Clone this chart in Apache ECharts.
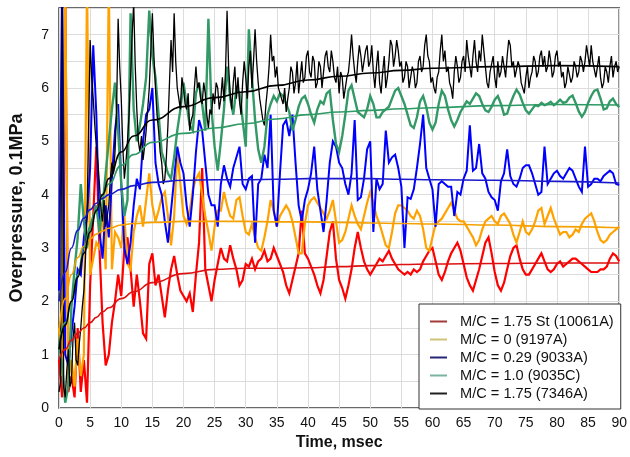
<!DOCTYPE html>
<html>
<head>
<meta charset="utf-8">
<script src="https://cdn.jsdelivr.net/npm/echarts@6/dist/echarts.min.js"></script>
<style>
  html, body { margin: 0; padding: 0; background: #ffffff; }
  #chart { width: 630px; height: 457px; }
</style>
</head>
<body>
<div id="chart"></div>
<script>
// Pressure traces: first sample at t = 0, one sample every *_STEP msec
const SAMPLE_STEP = 0.5;
const BLACK_STEP = 0.25;

const seriesNames = [
  'M/C = 1.75 St (10061A)',
  'M/C = 0 (9197A)',
  'M/C = 0.29 (9033A)',
  'M/C = 1.0 (9035C)',
  'M/C = 1.75 (7346A)'
];

const redTrace = [
  0.9, 0.2, 8.0, 0.3, 0.6, 0.2, 1.5, 0.3, 0.9, 0.1,
  2.3, 3.6, 4.9, 3.0, 1.6, 0.8, 1.0, 1.6, 2.0, 2.5,
  2.1, 3.0, 3.2, 2.6, 1.9, 2.5, 2.0, 1.4, 1.3, 2.7,
  2.9, 2.3, 2.5, 2.1, 1.7, 2.2, 2.6, 2.85, 2.5, 2.2,
  2.1, 2.0, 2.15, 1.8, 2.5, 3.1, 4.5, 2.6, 2.3, 2.0,
  2.4, 2.7, 3.0, 2.8, 2.75, 3.05, 2.8, 2.6, 2.3, 2.4,
  2.7, 2.65, 2.8, 2.6, 2.75, 2.8, 2.95, 2.75, 2.8, 3.0,
  2.85, 2.7, 2.55, 2.3, 2.15, 2.4, 2.65, 2.9, 3.7, 2.9,
  2.8, 2.65, 2.5, 2.3, 2.15, 2.4, 2.85, 3.3, 3.5, 2.8,
  2.4, 2.25, 2.05, 2.3, 2.6, 3.0, 3.3, 3.0, 2.75, 2.6,
  2.5, 2.6, 2.7, 2.8, 2.75, 2.85, 2.95, 2.8, 2.7, 2.6,
  2.55, 2.5, 2.55, 2.5, 2.6, 2.55, 2.6, 2.75, 2.85, 2.95,
  3.0, 2.75, 2.5, 2.4, 2.55, 2.75, 2.9, 3.0, 3.1, 2.95,
  2.7, 2.45, 2.3, 2.2, 2.4, 2.6, 2.85, 3.1, 3.2, 2.9,
  2.55, 2.3, 2.2, 2.35, 2.6, 2.85, 3.0, 3.05, 2.8, 2.6,
  2.5, 2.5, 2.6, 2.7, 2.8, 2.9, 2.75, 2.6, 2.55, 2.6,
  2.7, 2.75, 2.65, 2.7, 2.75, 2.8, 2.8, 2.75, 2.7, 2.65,
  2.6, 2.55, 2.55, 2.55, 2.6, 2.6, 2.65, 2.8, 2.9, 2.85,
  2.75
];

const orangeTrace = [
  1.5, 0.6, 8.0, 0.5, 0.9, 0.4, 1.3, 0.6, 1.0, 8.0,
  2.5, 2.8, 3.1, 3.0, 3.7, 2.6, 8.0, 2.6, 3.3, 3.2,
  3.0, 3.6, 2.7, 2.6, 3.3, 3.6, 3.8, 3.4, 3.9, 4.4,
  3.8, 3.5, 3.7, 3.95, 4.05, 3.6, 3.05, 3.6, 4.8, 4.2,
  3.6, 3.45, 3.7, 4.1, 4.3, 4.4, 4.0, 3.6, 3.3, 2.95,
  3.4, 3.7, 3.7, 4.05, 3.8, 3.6, 3.55, 3.9, 3.95, 3.6,
  3.3, 3.25, 3.45, 3.2, 3.0, 2.95, 3.2, 3.5, 3.9, 3.7,
  3.4, 3.6, 3.7, 3.8, 3.7, 3.5, 3.2, 2.9, 2.9, 3.45,
  3.8, 3.9, 3.95, 3.85, 3.75, 3.65, 3.55, 3.7, 3.9, 3.5,
  3.1, 3.15, 3.3, 3.55, 3.8, 3.6, 3.45, 3.35, 3.6, 3.85,
  4.05, 3.85, 3.6, 3.45, 3.25, 3.05, 3.0, 3.3, 3.65, 3.8,
  3.8, 3.75, 3.7, 3.6, 3.55, 3.7, 3.6, 3.35, 3.0, 2.95,
  3.2, 3.45, 3.5, 3.55, 3.65, 3.75, 3.85, 3.7, 3.55, 3.5,
  3.5, 3.4, 3.3, 3.2, 3.05, 3.15, 3.35, 3.5, 3.55, 3.6,
  3.5, 3.45, 3.6, 3.65, 3.55, 3.45, 3.25, 3.1, 3.3, 3.5,
  3.3, 3.25, 3.35, 3.5, 3.7, 3.75, 3.45, 3.6, 3.75, 3.55,
  3.4, 3.25, 3.3, 3.3, 3.2, 3.25, 3.35, 3.3, 3.45, 3.55,
  3.6, 3.65, 3.5, 3.3, 3.15, 3.1, 3.15, 3.25, 3.3, 3.35,
  3.4
];

const blueTrace = [
  2.2, 8.0, 1.0, 0.8, 1.4, 1.9, 2.6, 2.5, 3.2, 3.6,
  4.5, 6.8, 5.5, 3.3, 2.8, 3.8, 3.2, 4.3, 5.2, 5.7,
  4.2, 3.0, 2.7, 3.1, 3.8, 4.3, 4.1, 5.0, 5.5, 5.6,
  6.0, 4.6, 4.2, 4.0, 3.5, 3.1, 3.7, 4.3, 4.9, 4.6,
  4.4, 3.8, 3.4, 4.0, 4.8, 5.4, 5.2, 4.6, 4.0, 3.8,
  3.8, 3.4, 4.2, 4.55, 4.3, 4.15, 4.5, 4.7, 4.9, 4.2,
  4.1, 4.3, 4.35, 3.1, 4.2, 4.3, 4.75, 4.5, 5.5, 3.7,
  3.4, 4.4, 5.3, 5.4, 5.1, 5.5, 4.6, 3.8, 3.5, 3.9,
  4.1, 4.4, 4.9, 4.1, 3.7, 3.3, 3.9, 4.6, 5.0, 4.9,
  4.6, 4.5, 4.2, 4.0, 4.4, 5.4, 3.9, 3.95, 4.3, 4.85,
  5.0, 3.3, 4.3, 4.1, 4.2, 5.2, 4.6, 4.7, 4.75, 4.5,
  4.15, 3.0, 3.95, 3.92, 4.1, 4.5, 4.95, 5.5, 4.5, 4.3,
  4.1, 3.4, 4.2, 4.25, 4.2, 4.15, 4.15, 3.6, 4.05, 4.0,
  4.3, 4.45, 5.3, 4.45, 4.5, 4.95, 4.4, 4.3, 4.05, 3.95,
  3.9, 3.7, 4.25, 4.4, 4.85, 4.35, 4.2, 4.15, 4.3, 4.5,
  4.55, 4.55, 4.4, 4.2, 4.0, 4.05, 4.9, 4.2, 4.3, 4.4,
  4.45, 4.35, 4.3, 4.4, 4.5, 4.45, 4.3, 4.15, 4.05, 4.9,
  4.15, 4.2, 4.3, 4.3, 4.25, 4.35, 4.4, 4.45, 4.4, 4.2,
  4.18
];

const greenTrace = [
  1.2, 0.8, 0.1, 0.4, 1.9, 2.6, 3.2, 4.2, 3.5, 3.0,
  3.4, 3.6, 3.8, 3.3, 3.8, 4.4, 5.0, 5.6, 6.1, 5.2,
  4.2, 3.6, 3.9, 7.4, 5.6, 5.0, 5.3, 5.7, 6.2, 7.45,
  6.6, 6.2, 5.5, 4.8, 4.6, 4.4, 4.3, 4.7, 5.2, 5.6,
  6.1, 5.7, 5.3, 5.2, 5.9, 6.1, 5.7, 5.2, 7.3, 5.6,
  4.9, 4.45, 5.0, 5.6, 6.4, 5.8, 5.5, 6.0, 5.9, 5.4,
  4.9, 7.1, 6.2, 5.4, 4.85, 4.6, 4.9, 5.5, 5.7, 5.85,
  5.75, 5.9, 5.85, 5.7, 5.55, 5.2, 5.4, 5.65, 5.8, 5.85,
  5.7, 5.5, 5.35, 5.6, 5.75, 5.7, 5.9, 5.95, 5.4, 4.95,
  4.8, 5.1, 5.5, 5.95, 6.05, 5.8, 5.55, 5.5, 5.45, 5.6,
  5.85, 5.7, 5.45, 5.45, 5.55, 5.6, 5.65, 5.8, 5.95, 6.0,
  5.85, 5.7, 5.5, 5.3, 5.25, 5.45, 5.75, 5.85, 5.65, 5.35,
  5.22, 5.35, 5.7, 5.95, 5.85, 5.6, 5.4, 5.28, 5.4, 5.55,
  5.65, 5.75, 5.7, 5.8, 5.9, 5.85, 5.7, 5.58, 5.55, 5.65,
  5.78, 5.85, 5.7, 5.5, 5.52, 5.7, 5.85, 5.97, 5.88, 5.72,
  5.58, 5.52, 5.6, 5.68, 5.66, 5.72, 5.68, 5.7, 5.74, 5.68,
  5.72, 5.78, 5.72, 5.74, 5.82, 5.86, 5.72, 5.56, 5.46, 5.55,
  5.72, 5.85, 5.95, 5.97, 5.8, 5.6, 5.62, 5.75, 5.8, 5.7,
  5.64
];

// 0.25 msec sampling: this trace carries a lot of fine noise
const blackTrace = [
  0.3, 0.5, 8.0, 0.4, 0.2, 0.7, 1.1, 0.4, 0.5, 1.3, 1.6, 0.9, 0.8, 1.2, 1.5, 1.9, 2.2, 2.8, 3.6, 5.2,
  6.9, 6.2, 5.8, 5.3, 4.9, 4.6, 4.2, 3.7, 3.5, 3.9, 3.4, 3.6, 3.8, 4.3, 4.6, 4.4, 4.8, 5.6, 7.3, 6.4,
  5.8, 4.9, 4.3, 4.6, 5.0, 5.5, 6.2, 7.0, 7.6, 6.4, 5.6, 5.0, 4.8, 5.1, 4.65, 4.9, 5.2, 5.6, 6.0, 6.7,
  7.4, 6.6, 6.0, 5.5, 5.2, 4.8, 4.6, 4.2, 4.3, 4.7, 5.3, 6.1, 6.9, 6.3, 7.4, 6.5, 6.0, 5.8, 5.6, 6.2,
  6.0, 5.7, 5.6, 5.9, 5.2, 5.4, 5.5, 6.0, 6.4, 6.0, 6.1, 5.8, 5.7, 6.1, 5.9, 5.5, 5.25, 5.6, 5.5, 5.9,
  5.7, 6.1, 6.0, 5.6, 5.8, 6.2, 5.75, 6.3, 7.45, 6.4, 5.9, 5.6, 6.1, 6.4, 5.8, 6.2, 5.75, 5.5, 6.1, 6.5,
  6.2, 5.8, 6.4, 6.7, 6.0, 6.5, 7.1, 6.5, 6.1, 5.8, 5.6, 5.4, 5.3, 5.7, 6.0, 6.4, 7.0, 6.5, 6.6, 6.2,
  6.4, 6.0, 6.0, 5.8, 5.7, 6.0, 5.55, 5.8, 6.0, 6.4, 6.3, 5.9, 6.1, 6.5, 5.9, 6.2, 6.5, 6.1, 6.2, 6.6,
  6.7, 6.3, 6.2, 6.6, 6.5, 6.0, 6.1, 6.5, 6.4, 6.0, 6.3, 6.6, 6.7, 6.4, 6.3, 6.7, 6.5, 6.2, 6.1, 6.4,
  5.9, 6.3, 6.2, 5.8, 5.8, 6.2, 6.3, 6.6, 7.0, 6.6, 6.3, 6.1, 6.5, 6.8, 6.6, 6.3, 6.3, 6.7, 6.8, 6.4,
  6.5, 6.8, 6.3, 6.0, 6.4, 6.7, 6.1, 5.9, 6.3, 6.6, 6.0, 6.2, 6.5, 6.9, 6.8, 6.4, 6.6, 6.9, 6.7, 6.4,
  6.5, 6.1, 6.2, 6.5, 6.4, 6.0, 6.0, 6.4, 6.3, 6.0, 6.1, 6.5, 6.6, 6.3, 6.4, 6.8, 7.0, 6.6, 6.5, 6.1,
  6.2, 6.0, 5.9, 6.2, 6.3, 6.7, 7.0, 6.5, 6.7, 6.3, 6.4, 6.1, 6.0, 5.8, 6.3, 6.6, 6.4, 6.1, 6.2, 6.5,
  6.6, 6.3, 6.9, 6.6, 6.4, 6.2, 6.6, 6.9, 6.5, 6.3, 6.7, 6.5, 7.0, 6.7, 6.4, 6.1, 6.0, 6.3, 6.3, 6.6,
  6.2, 6.0, 6.5, 6.2, 6.3, 6.6, 6.4, 6.2, 6.6, 6.9, 6.8, 6.4, 6.5, 6.2, 6.2, 6.5, 6.4, 6.1, 6.1, 5.9,
  6.2, 6.4, 6.0, 6.2, 6.3, 6.6, 6.5, 6.2, 6.3, 6.6, 6.7, 6.4, 6.6, 6.3, 6.4, 6.7, 6.5, 6.2, 6.3, 6.6,
  6.7, 6.4, 6.5, 6.2, 6.3, 6.0, 6.1, 6.4, 6.4, 6.1, 6.2, 6.5, 6.4, 6.2, 6.3, 6.6, 6.5, 6.3, 6.5, 6.8,
  6.6, 6.4, 6.8, 6.5, 6.5, 6.2, 6.4, 6.6, 6.2, 6.0, 6.1, 6.4, 6.3, 6.1, 6.4, 6.6, 6.2, 6.4, 6.5, 6.3,
  6.4
];

// Fitted curves, read at these times (msec)
const fitTime   = [0, 1, 2, 3, 4, 5, 6, 7, 8, 10, 12, 15, 20, 25, 30, 35, 40, 45, 50, 55, 60, 70, 80, 90];
const redFit    = [0.9, 1.1, 1.27, 1.4, 1.5, 1.6, 1.7, 1.8, 1.88, 2.05, 2.18, 2.35, 2.52, 2.6, 2.62, 2.62, 2.63, 2.65, 2.67, 2.69, 2.7, 2.71, 2.72, 2.72];
const orangeFit = [1.45, 2.05, 2.5, 2.82, 3.03, 3.17, 3.26, 3.32, 3.37, 3.43, 3.46, 3.48, 3.5, 3.5, 3.5, 3.49, 3.49, 3.48, 3.47, 3.46, 3.45, 3.43, 3.4, 3.38];
const blueFit   = [2.0, 2.55, 3.0, 3.33, 3.56, 3.72, 3.84, 3.93, 4.0, 4.1, 4.17, 4.23, 4.27, 4.28, 4.28, 4.29, 4.3, 4.3, 4.3, 4.29, 4.28, 4.27, 4.25, 4.22];
const greenFit  = [1.2, 1.6, 2.0, 2.5, 3.0, 3.4, 3.7, 4.0, 4.2, 4.55, 4.75, 4.98, 5.15, 5.25, 5.33, 5.42, 5.5, 5.55, 5.58, 5.61, 5.63, 5.67, 5.69, 5.68];
const blackFit  = [1.1, 1.55, 2.0, 2.45, 2.9, 3.3, 3.7, 4.0, 4.3, 4.8, 5.1, 5.4, 5.65, 5.82, 5.93, 6.05, 6.15, 6.22, 6.28, 6.33, 6.37, 6.4, 6.42, 6.4];

const traces = [redTrace, orangeTrace, blueTrace, greenTrace, blackTrace];
const traceSteps = [SAMPLE_STEP, SAMPLE_STEP, SAMPLE_STEP, SAMPLE_STEP, BLACK_STEP];
const fits = [redFit, orangeFit, blueFit, greenFit, blackFit];

const traceColors  = ['#ff0000', '#ffa200', '#0000ff', '#339966', '#000000'];
const traceWidths  = [2.2, 2.2, 2.0, 2.4, 1.3];
const fitColors    = ['#dd1111', '#f5a000', '#1a1acc', '#2f9a66', '#000000'];
const legendColors = ['#a33a3a', '#d2c278', '#25257a', '#78b4a0', '#202020'];

const FONT = 'Arial, "Liberation Sans", sans-serif';

const series = [];
traces.forEach((values, k) => {
  series.push({
    name: seriesNames[k],
    type: 'line',
    data: values.map((v, i) => [i * traceSteps[k], v]),
    symbol: 'none',
    lineStyle: { color: traceColors[k], width: traceWidths[k], join: 'miter', miterLimit: 4 },
    itemStyle: { color: traceColors[k] },
    z: 2 + k,
    clip: true
  });
});
fits.forEach((values, k) => {
  series.push({
    name: seriesNames[k] + ' fit',
    type: 'line',
    data: values.map((v, i) => [fitTime[i], v]),
    symbol: 'none',
    smooth: 0.5,
    smoothMonotone: 'x',
    lineStyle: { color: fitColors[k], width: 1.6 },
    itemStyle: { color: fitColors[k] },
    z: 10 + k,
    clip: true
  });
});

const chart = echarts.init(document.getElementById('chart'), null, { renderer: 'canvas' });
chart.setOption({
  animation: false,
  backgroundColor: '#ffffff',
  grid: {
    left: 59, right: 9, top: 8, bottom: 49,
    show: true, borderColor: '#3a3a3a', borderWidth: 1.5, backgroundColor: 'transparent'
  },
  legend: {
    orient: 'vertical',
    left: 419, top: 304,
    backgroundColor: '#ffffff',
    borderColor: '#333333', borderWidth: 1,
    padding: [10, 7, 8, 11],
    itemGap: 3,
    itemWidth: 17, itemHeight: 2,
    selectedMode: false,
    textStyle: { fontFamily: FONT, fontSize: 14.6, color: '#111111', padding: [0, 0, 0, 8] },
    data: seriesNames.map((n, k) => ({
      name: n,
      icon: 'rect',
      itemStyle: { color: legendColors[k] },
      lineStyle: { color: legendColors[k], width: 1.5 }
    }))
  },
  xAxis: {
    type: 'value', min: 0, max: 90, interval: 5,
    name: 'Time, msec', nameLocation: 'middle', nameGap: 26,
    nameTextStyle: { fontFamily: FONT, fontSize: 16, fontWeight: 'bold', color: '#111' },
    axisLine: { show: false }, axisTick: { show: false },
    axisLabel: { fontFamily: FONT, fontSize: 14, color: '#111', margin: 8 },
    splitLine: { show: true, lineStyle: { color: '#dcdcdc', width: 1 } }
  },
  yAxis: {
    type: 'value', min: 0, max: 7.5, interval: 0.5,
    name: 'Overpressure, 0.1MPa', nameLocation: 'middle', nameGap: 33,
    nameTextStyle: { fontFamily: FONT, fontSize: 18, fontWeight: 'bold', color: '#111' },
    axisLine: { show: false }, axisTick: { show: false },
    axisLabel: {
      fontFamily: FONT, fontSize: 14, color: '#111', margin: 10,
      formatter: v => (Math.abs(v - Math.round(v)) < 1e-9 ? String(Math.round(v)) : '')
    },
    splitLine: { show: true, lineStyle: { color: '#dcdcdc', width: 1 } }
  },
  series: series
});
</script>
</body>
</html>
